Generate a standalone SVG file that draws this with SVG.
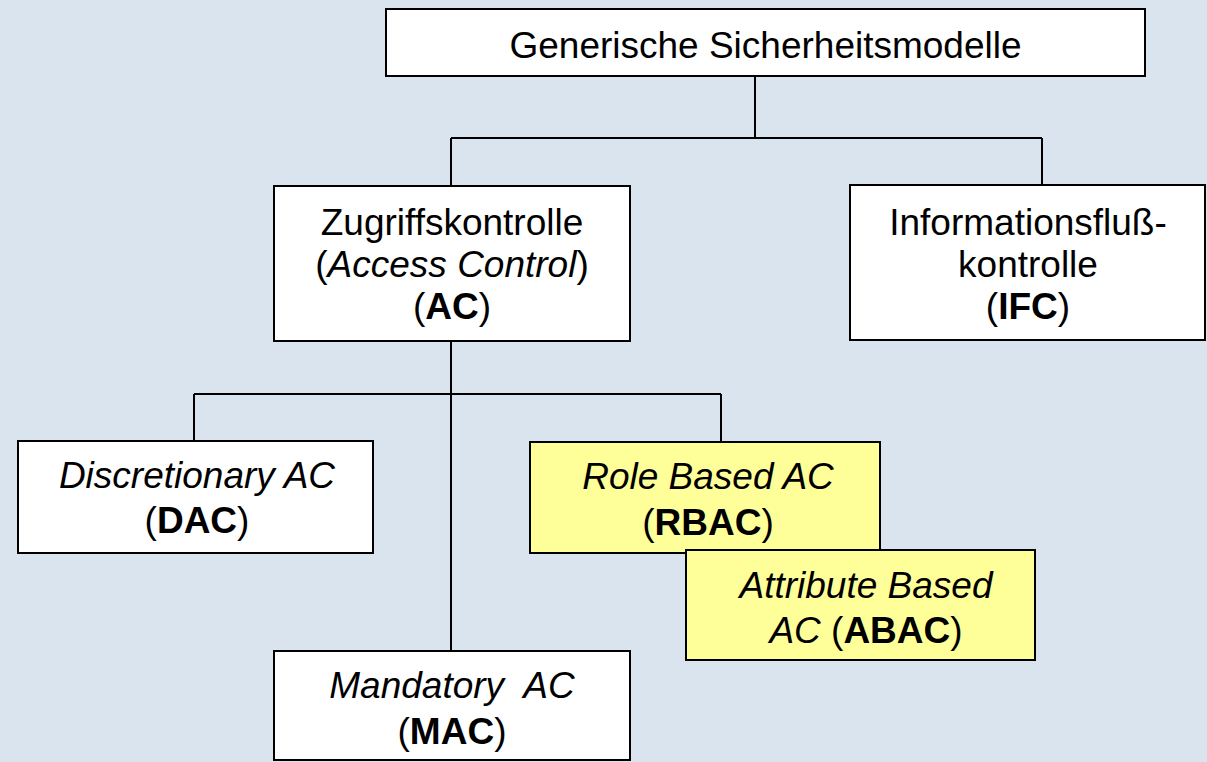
<svg xmlns="http://www.w3.org/2000/svg" width="1207" height="762" viewBox="0 0 1207 762">
<style>
.bg{fill:#D9E4EE}
.box{fill:#FFFFFF;stroke:#000;stroke-width:2}
.yel{fill:#FFFF99;stroke:#000;stroke-width:2}
.con{stroke:#000;stroke-width:2;fill:none}
text{font-family:"Liberation Sans",Arial,sans-serif;font-size:37px;fill:#000;text-anchor:middle;white-space:pre}
.i{font-style:italic}
.b{font-weight:bold}
</style>
<rect class="bg" x="0" y="0" width="1207" height="762"/>
<g id="connectors">
<path class="con" d="M755,76 V138 M451,138 H1042 M451,138 V186 M1042,138 V185 M451,341 V651 M194,394 H721 M194,394 V441 M721,394 V442"/>
</g>
<g id="root">
<rect class="box" x="386" y="9" width="759" height="67"/>
<text x="765.5" y="58">Generische Sicherheitsmodelle</text>
</g>
<g id="ac">
<rect class="box" x="274" y="186" width="356" height="155"/>
<text x="452" y="235">Zugriffskontrolle</text>
<text x="452" y="277">(<tspan class="i">Access Control</tspan>)</text>
<text x="452" y="319">(<tspan class="b">AC</tspan>)</text>
</g>
<g id="ifc">
<rect class="box" x="850" y="185" width="355" height="155"/>
<text x="1028" y="235">Informationsfluß-</text>
<text x="1028" y="277">kontrolle</text>
<text x="1028" y="319">(<tspan class="b">IFC</tspan>)</text>
</g>
<g id="dac">
<rect class="box" x="18" y="441" width="355" height="112"/>
<text x="197" y="488"><tspan class="i">Discretionary AC</tspan></text>
<text x="197" y="533">(<tspan class="b">DAC</tspan>)</text>
</g>
<g id="rbac">
<rect class="yel" x="530" y="442" width="350" height="111"/>
<text x="708" y="489"><tspan class="i">Role Based AC</tspan></text>
<text x="708" y="535">(<tspan class="b">RBAC</tspan>)</text>
</g>
<g id="abac">
<rect class="yel" x="686" y="550" width="349" height="110"/>
<text x="866" y="598"><tspan class="i">Attribute Based</tspan></text>
<text x="866" y="643"><tspan class="i">AC</tspan> (<tspan class="b">ABAC</tspan>)</text>
</g>
<g id="mac">
<rect class="box" x="274" y="651" width="356" height="109"/>
<text x="452" y="698"><tspan class="i">Mandatory  AC</tspan></text>
<text x="452" y="744">(<tspan class="b">MAC</tspan>)</text>
</g>
</svg>
